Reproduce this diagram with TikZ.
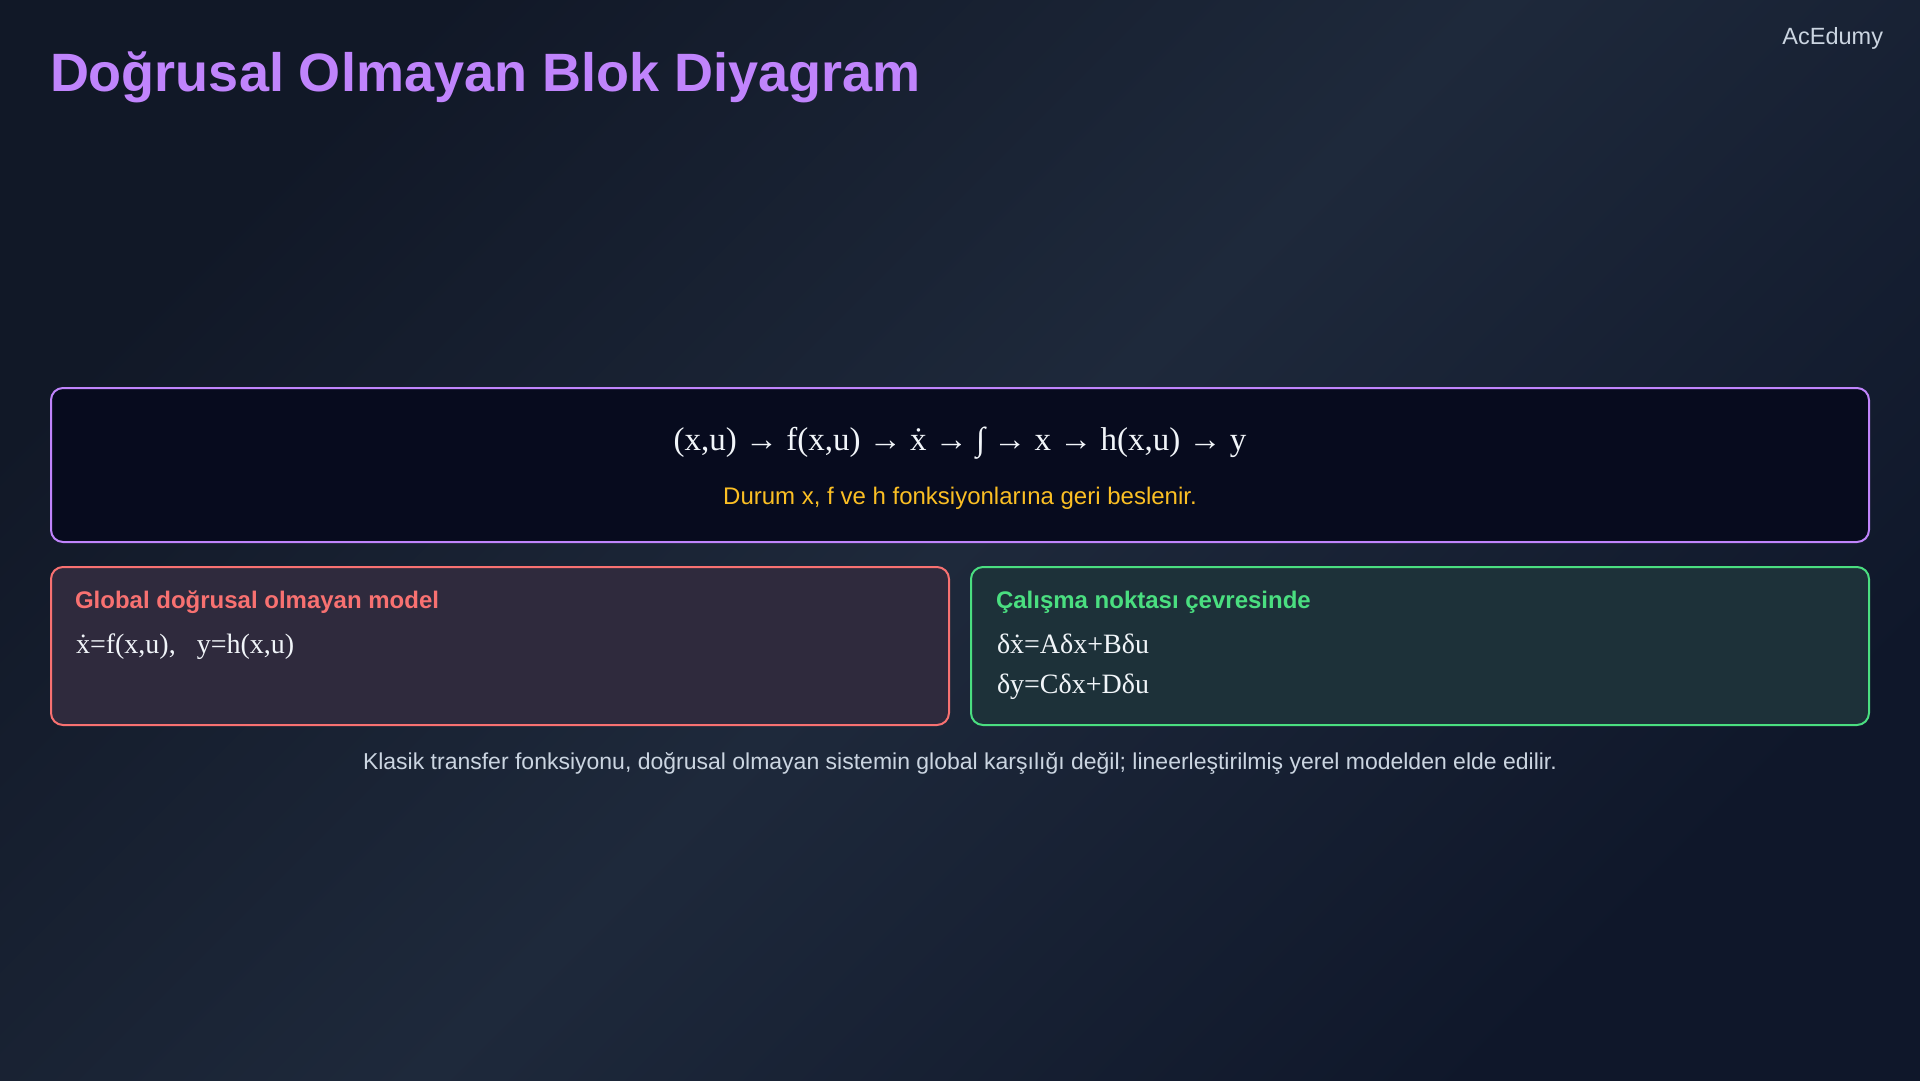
\documentclass[tikz,border=0pt]{standalone}
\usepackage{fontspec}
\usepackage{xcolor}
\setmainfont{Liberation Sans}
\newfontfamily\eqfont{Liberation Serif}

\definecolor{bgA}{HTML}{111827}
\definecolor{bgB}{HTML}{1E293B}
\definecolor{bgC}{HTML}{0F172A}
\definecolor{violetT}{HTML}{C084FC}
\definecolor{slateT}{HTML}{CBD5E1}
\definecolor{amberT}{HTML}{FBBF24}
\definecolor{redT}{HTML}{F87171}
\definecolor{greenT}{HTML}{4ADE80}
\definecolor{flowFill}{HTML}{070B1E}
\definecolor{globFill}{HTML}{2F2A3D}
\definecolor{locFill}{HTML}{1D3139}
\definecolor{eqT}{HTML}{F1F5F9}

\begin{document}
\begin{tikzpicture}[x=1pt,y=1pt,yscale=-1,xscale=1,
  txt/.style={inner sep=0pt,outer sep=0pt},
  panel/.style={line width=2pt,rounded corners=12pt}]
\useasboundingbox (0,0) rectangle (1920,1080);

%Shape: Background
\shade [top color=bgA,bottom color=bgC,middle color=bgB,shading angle=45] (0,0) rectangle (1920,1080);

%Shape: Rectangle [flow panel]
\draw [panel,draw=violetT,fill=flowFill] (51,388) rectangle (1869,542);
%Shape: Rectangle [global panel]
\draw [panel,draw=redT,fill=globFill] (51,567) rectangle (949,725);
%Shape: Rectangle [local panel]
\draw [panel,draw=greenT,fill=locFill] (971,567) rectangle (1869,725);

% Text Node
\node [txt,anchor=base west,text=violetT] (title) at (50,91) {\fontsize{54}{60}\selectfont\bfseries Doğrusal Olmayan Blok Diyagram};
% Text Node
\node [txt,anchor=base east,text=slateT] (brand) at (1883,44) {\fontsize{23.5}{28}\selectfont AcEdumy};

% Text Node
\node [txt,anchor=base,text=eqT] (flow) at (960,450) {\eqfont\fontsize{33}{40}\selectfont (x,u) → f(x,u) → ẋ → ∫ → x → h(x,u) → y};
% Text Node
\node [txt,anchor=base,text=amberT] (feedback) at (960,504) {\fontsize{24}{28}\selectfont Durum x, f ve h fonksiyonlarına geri beslenir.};

% Text Node
\node [txt,anchor=base west,text=redT] (globtitle) at (75,608) {\fontsize{24}{28}\selectfont\bfseries Global doğrusal olmayan model};
% Text Node
\node [txt,anchor=base west,text=eqT] (globeq) at (76,653) {\eqfont\fontsize{28}{34}\selectfont ẋ=f(x,u),~~~y=h(x,u)};

% Text Node
\node [txt,anchor=base west,text=greenT] (loctitle) at (996,608) {\fontsize{24}{28}\selectfont\bfseries Çalışma noktası çevresinde};
% Text Node
\node [txt,anchor=base west,text=eqT] (loceqA) at (997,653) {\eqfont\fontsize{28}{34}\selectfont δẋ=Aδx+Bδu};
% Text Node
\node [txt,anchor=base west,text=eqT] (loceqB) at (997,693) {\eqfont\fontsize{28}{34}\selectfont δy=Cδx+Dδu};

% Text Node
\node [txt,anchor=base,text=slateT] (note) at (960,769) {\fontsize{23}{28}\selectfont Klasik transfer fonksiyonu, doğrusal olmayan sistemin global karşılığı değil; lineerleştirilmiş yerel modelden elde edilir.};

\end{tikzpicture}
\end{document}
